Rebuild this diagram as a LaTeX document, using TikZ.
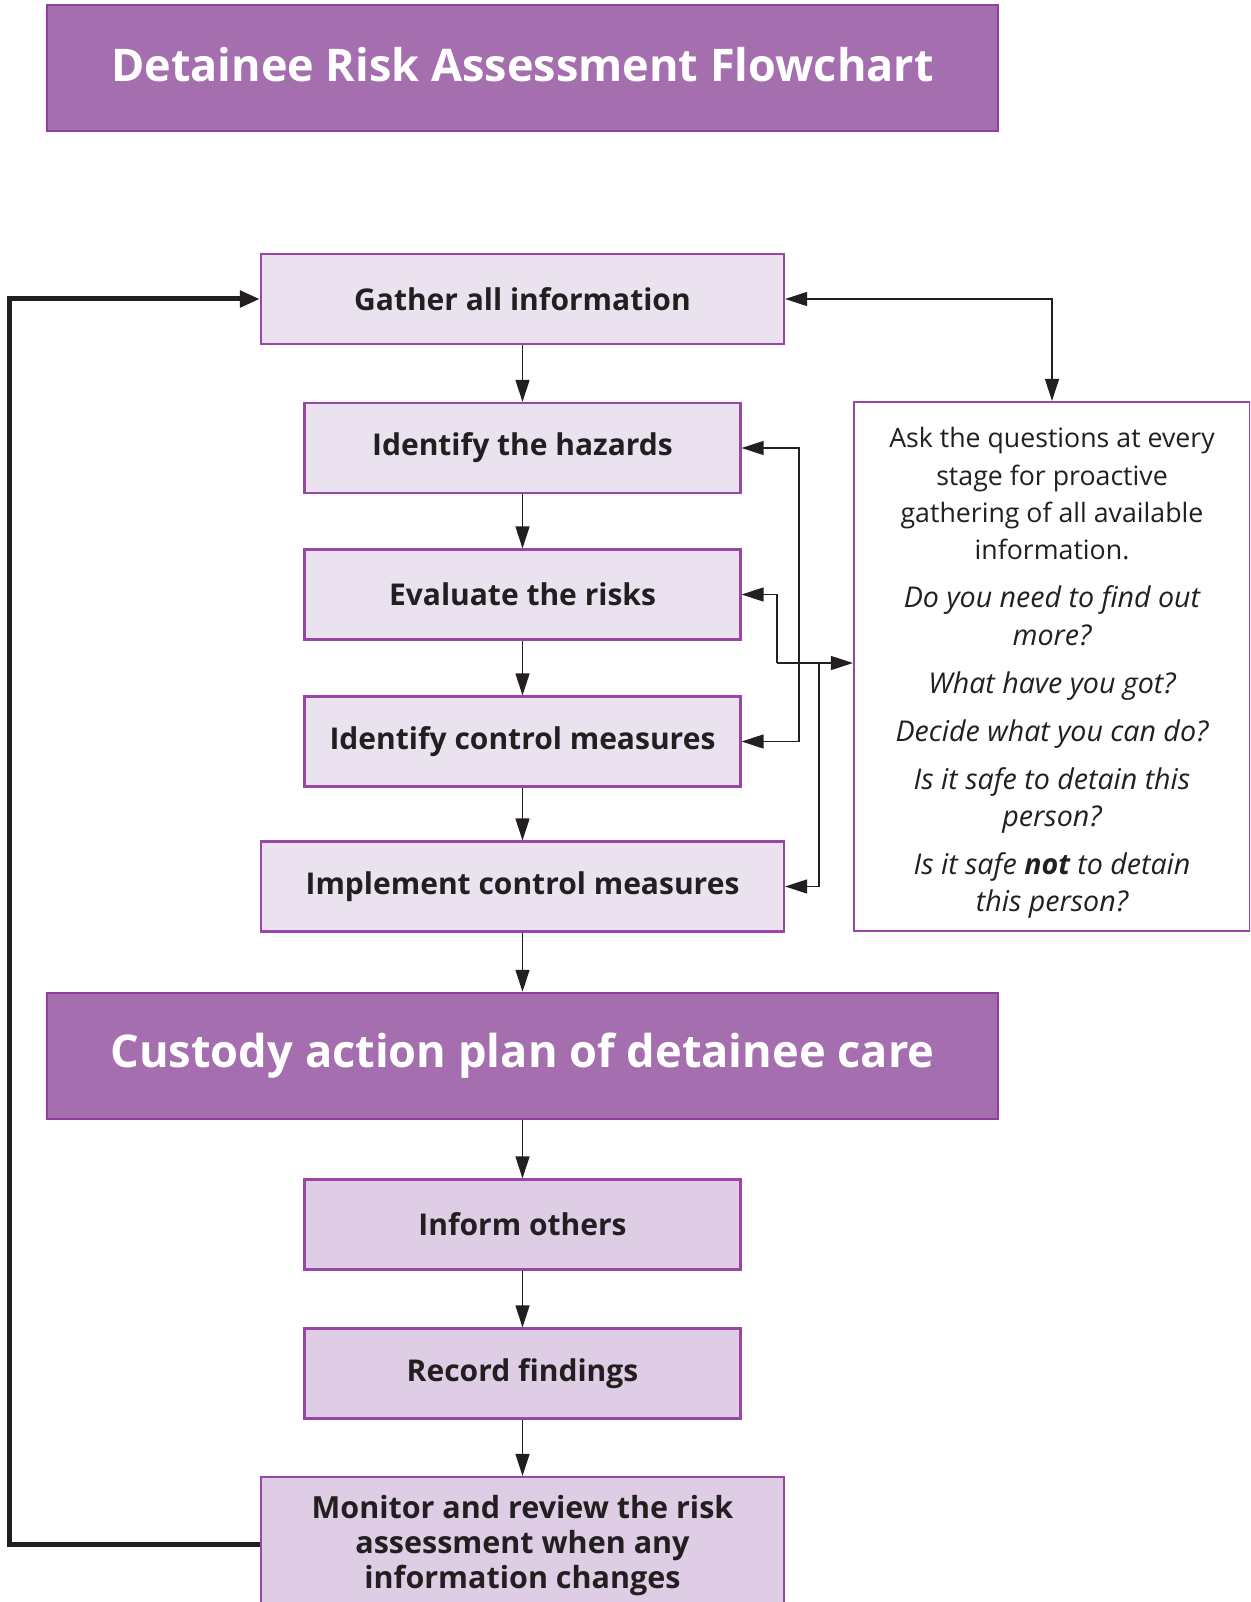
\documentclass[tikz,border=0pt]{standalone}
\usepackage{fontspec}
\setmainfont{Open Sans}
\usetikzlibrary{arrows.meta}
\definecolor{headfill}{HTML}{A56FAF}
\definecolor{headline}{HTML}{8E3F9C}
\definecolor{lightfill}{HTML}{EBE2F0}
\definecolor{midfill}{HTML}{DFCDE5}
\definecolor{boxline}{HTML}{9A46A7}
\definecolor{ink}{HTML}{231F20}
\newcommand{\qit}[1]{{\fontsize{28.6}{37.3}\selectfont\itshape #1}}
\begin{document}
\begin{tikzpicture}[x=1pt,y=-1pt,
  header/.style={draw=headline, line width=2.5pt, fill=headfill, minimum width=951pt, minimum height=126pt, inner sep=0pt, text=white, font=\fontsize{45}{50}\selectfont\bfseries},
  stepbox/.style={draw=boxline, line width=2.2pt, fill=lightfill, minimum height=90pt, inner sep=0pt, text=ink, font=\fontsize{30}{35}\selectfont\bfseries, align=center},
  widebox/.style={stepbox, minimum width=523pt},
  narrowbox/.style={stepbox, minimum width=436pt},
  arr/.style={draw=ink, line width=1.3pt, -{Triangle[length=22pt,width=14pt]}},
  biarr/.style={draw=ink, line width=1.3pt, {Triangle[length=22pt,width=14pt]}-{Triangle[length=22pt,width=14pt]}},
  looparr/.style={draw=ink, line width=5pt, -{Triangle[length=20pt,width=16pt]}}
]
\useasboundingbox (0,0) rectangle (1250,1602);
\clip (0,0) rectangle (1250,1602);
\fill[white] (0,0) rectangle (1250,1602);

\node[header] (title) at (522.5,68) {\raisebox{7pt}{Detainee Risk Assessment Flowchart}};
\node[widebox] (gather) at (522.5,299) {Gather all information};
\node[narrowbox] (hazards) at (522.5,448) {Identify the hazards};
\node[narrowbox] (evaluate) at (522.5,594.5) {Evaluate the risks};
\node[narrowbox] (control) at (522.5,741.5) {Identify control measures};
\node[widebox] (implement) at (522.5,886.5) {Implement control measures};
\node[header, font=\fontsize{45.2}{52}\selectfont\bfseries] (custody) at (522.5,1056) {Custody action plan of detainee care};
\node[narrowbox, fill=midfill] (inform) at (522.5,1224.5) {Inform others};
\node[narrowbox, fill=midfill] (record) at (522.5,1373.5) {Record findings};
\node[widebox, fill=midfill, minimum height=134pt, text depth=0pt] (monitor) at (522.5,1544) {};
\node[text=ink, font=\fontsize{30.5}{34.8}\selectfont\bfseries, align=center, anchor=north] (monitortext) at (522.5,1492) {Monitor and review the risk\\assessment when any\\information changes};

\node[draw=boxline, line width=2.2pt, fill=white, minimum width=396pt, minimum height=529pt, inner sep=0pt] (questions) at (1052,666.5) {};
\node[text=ink, font=\fontsize{26.7}{37.3}\selectfont, align=center, anchor=north] (qtext) at (1052,424) {Ask the questions at every\\stage for proactive\\gathering of all available\\information.\\[10.7pt]
\qit{Do you need to find out}\\\qit{more?}\\[10.7pt]
\qit{What have you got?}\\[10.7pt]
\qit{Decide what you can do?}\\[10.7pt]
\qit{Is it safe to detain this}\\\qit{person?}\\[10.7pt]
\qit{Is it safe \textbf{not} to detain}\\\qit{this person?}};

% vertical flow
\draw[arr] (gather) -- (hazards);
\draw[arr] (hazards) -- (evaluate);
\draw[arr] (evaluate) -- (control);
\draw[arr] (control) -- (implement);
\draw[arr] (implement) -- (custody);
\draw[arr] (custody) -- (inform);
\draw[arr] (inform) -- (record);
\draw[arr] (record) -- (monitor);

% top link
\draw[biarr] (gather.east) -| (questions.north);

% right side links
\coordinate (jn) at (777,663);
\coordinate (jn2) at (819,663);
\coordinate (bx) at (799,0);
\draw[biarr] (hazards.east) -- (hazards.east -| bx) -- (control.east -| bx) -- (control.east);
\draw[arr] (jn) -- (questions.west |- jn);
\draw[arr] (jn) |- (evaluate.east);
\draw[arr] (jn2) |- (implement.east);

% loop back
\coordinate (lx) at (9,0);
\draw[looparr] (monitor.west) -- (monitor.west -| lx) -- (gather.west -| lx) -- (gather.west);
\end{tikzpicture}
\end{document}
